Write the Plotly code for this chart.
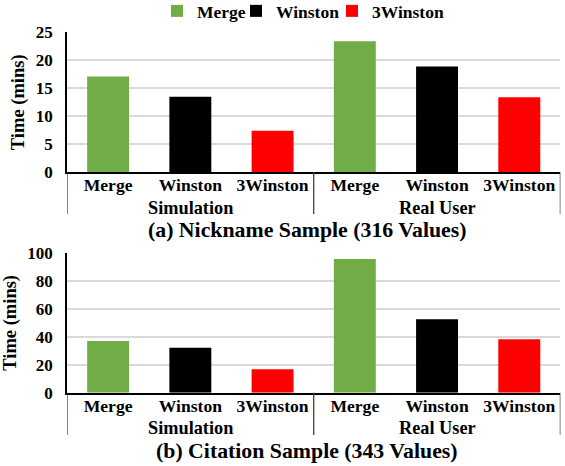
import plotly.graph_objects as go

groups = ["Simulation", "Real User"]
methods = ["Merge", "Winston", "3Winston"]
colors = ["#70AD47", "#000000", "#FF0000"]

nickname = {"Merge": [17.1, 23.4], "Winston": [13.5, 18.9], "3Winston": [7.4, 13.4]}
citation = {"Merge": [37.0, 95.7], "Winston": [32.2, 52.5], "3Winston": [16.7, 38.2]}

titles = ["(a) Nickname Sample (316 Values)", "(b) Citation Sample (343 Values)"]
y_ranges = [[0, 25], [0, 100]]
y_dticks = [5, 20]

FONT = "Liberation Serif"
W, H = 565, 466


def px(x):
    return x / W


def py(y):
    return 1 - y / H


keys = [g + "|" + m for g in groups for m in methods]
key_text = [m for g in groups for m in methods]
legend_ids = ["legend", "legend2", "legend3"]
legend_left_px = [157, 236, 332]

fig = go.Figure()

for panel, data in enumerate([nickname, citation]):
    xa = "x" if panel == 0 else "x2"
    ya = "y" if panel == 0 else "y2"
    for m, c, lg in zip(methods, colors, legend_ids):
        fig.add_trace(go.Bar(
            x=[g + "|" + m for g in groups],
            y=data[m],
            name=m,
            marker=dict(color=c, line=dict(width=0)),
            width=0.51,
            xaxis=xa, yaxis=ya,
            legend=lg,
            showlegend=(panel == 0),
        ))

xdom = [px(67), px(560.4)]
ydoms = [[py(172.3), py(32.3)], [py(392.7), py(253)]]


def bold(size):
    return dict(family=FONT, size=size, color="#000000", weight="bold")


xcommon = dict(
    domain=xdom, type="category", categoryorder="array", categoryarray=keys,
    tickvals=keys, ticktext=key_text, range=[-0.5, len(keys) - 0.5],
    showline=True, linecolor="#000000", linewidth=1.5, showgrid=False, ticks="",
    tickfont=bold(17.6), automargin=False, fixedrange=True, ticklabelstandoff=-4,
)
ycommon = dict(
    showline=True, linecolor="#000000", linewidth=1.5, showgrid=True, gridcolor="#D9D9D9",
    gridwidth=1.6, zeroline=False, ticks="", tickfont=bold(17), automargin=False,
    ticklabelstandoff=9, fixedrange=True,
    title=dict(text="Time (mins)", font=bold(18.5), standoff=6),
)

legend_layout = {}
for lg, lx in zip(legend_ids, legend_left_px):
    legend_layout[lg] = dict(orientation="h", x=px(lx), xanchor="left", y=py(11), yanchor="middle",
                             font=bold(17.5), itemwidth=30, bgcolor="rgba(0,0,0,0)")

fig.update_layout(
    width=W, height=H,
    margin=dict(l=0, r=0, t=0, b=0, autoexpand=False),
    plot_bgcolor="#FFFFFF", paper_bgcolor="#FFFFFF",
    barmode="overlay",
    font=dict(family=FONT, size=17, color="#000000"),
    xaxis=dict(**xcommon, anchor="y"),
    xaxis2=dict(**xcommon, anchor="y2"),
    yaxis=dict(**ycommon, domain=ydoms[0], range=y_ranges[0], dtick=y_dticks[0], anchor="x"),
    yaxis2=dict(**ycommon, domain=ydoms[1], range=y_ranges[1], dtick=y_dticks[1], anchor="x2"),
    showlegend=True,
    **legend_layout,
)

group_y_px = [207.5, 428]
bracket_bottom_px = [214, 435]
axis_px = [172.3, 392.7]
title_y_px = [230, 451]
for i, t in enumerate(titles):
    xa = "x" if i == 0 else "x2"
    for b in [-0.5, 2.5, 5.5]:
        fig.add_shape(type="line", xref=xa, yref="paper", x0=b, x1=b,
                      y0=py(axis_px[i]), y1=py(bracket_bottom_px[i]),
                      line=dict(color="#404040", width=1.3))
    for gi, g in enumerate(groups):
        fig.add_annotation(text=g, xref=xa, x=gi * 3 + 1, yref="paper", y=py(group_y_px[i]),
                           showarrow=False, xanchor="center", yanchor="middle", font=bold(18.3))
    fig.add_annotation(text=t, x=px(307), xref="paper",
                       y=py(title_y_px[i]), yref="paper", showarrow=False, xanchor="center",
                       yanchor="middle", font=bold(21.8))

# remove the default 8px page margin so the figure fills the window exactly
fig.write_html("out.html", config={"displayModeBar": False},
               post_script="document.body.style.margin='0px';")
